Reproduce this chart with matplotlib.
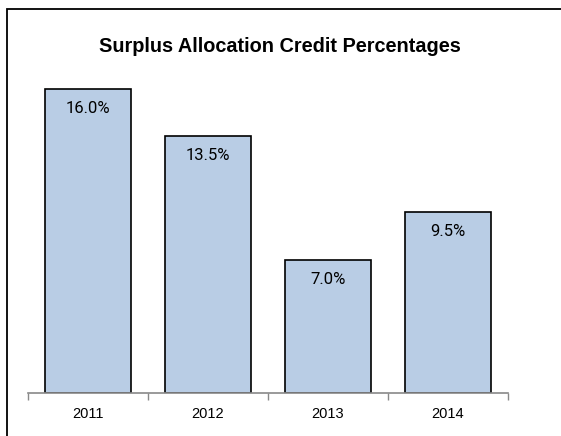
import matplotlib.pyplot as plt
from matplotlib.patches import Rectangle

years = ["2011", "2012", "2013", "2014"]
credit_pct = [16.0, 13.5, 7.0, 9.5]
value_labels = ["16.0%", "13.5%", "7.0%", "9.5%"]

fig = plt.figure(figsize=(5.61, 4.36), dpi=100)
ax = fig.add_axes([28 / 561, 1 - 393 / 436, 480 / 561, 342 / 436])

x = range(len(years))
bars = ax.bar(x, credit_pct, width=0.71, color="#b9cde5", edgecolor="black", linewidth=1.2, zorder=2)

ax.set_xlim(-0.5, len(years) - 0.5)
ax.set_ylim(0, 18)

# category axis: gray baseline with ticks between categories
ax.set_xticks([i - 0.5 for i in range(len(years) + 1)], minor=False)
ax.set_xticklabels([""] * (len(years) + 1))
ax.set_xticks(list(x), minor=True)
ax.set_xticklabels(years, minor=True, fontsize=10.5, family=["Liberation Sans", "DejaVu Sans"])
ax.tick_params(axis="x", which="major", length=5, color="#898989", width=1)
ax.tick_params(axis="x", which="minor", length=0, pad=10)
ax.set_yticks([])
for side in ["left", "right", "top"]:
    ax.spines[side].set_visible(False)
ax.spines["bottom"].set_color("#898989")
ax.spines["bottom"].set_linewidth(1.2)
ax.spines["bottom"].set_zorder(3)

for b, lab in zip(bars, value_labels):
    ax.annotate(lab, (b.get_x() + b.get_width() / 2, b.get_height()),
                xytext=(0, -14), textcoords="offset points", ha="center", va="center",
                fontsize=12, family=["Liberation Sans Narrow", "Roboto", "DejaVu Sans"])

fig.text(280 / 561, 1 - 47 / 436, "Surplus Allocation Credit Percentages", ha="center", va="center",
         fontsize=14.3, fontweight="bold", family=["Liberation Sans", "DejaVu Sans"])

# outer chart frame (runs off the right and bottom edges)
fig.patches.append(Rectangle((7 / 561, -0.1), 1.2, 1 - 9 / 436 + 0.1, transform=fig.transFigure,
                             fill=False, edgecolor="black", linewidth=1.3))

fig.savefig("out.png", dpi=100)
